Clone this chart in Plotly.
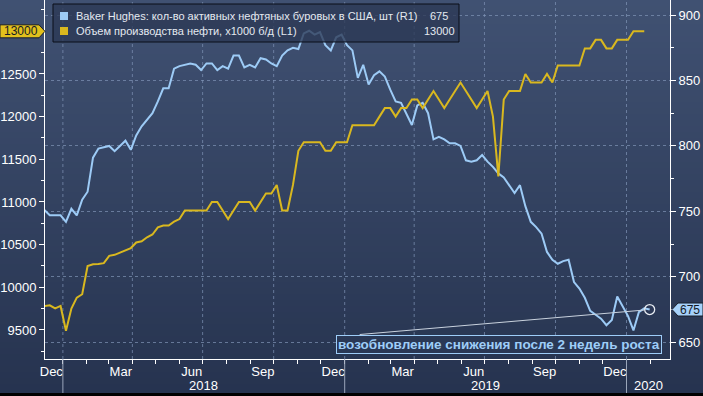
import pandas as pd
import plotly.graph_objects as go

# ---------------- data ----------------
rig_start = "2017-12-08"
rigs = [
    751, 747, 747, 747,
    742, 752, 747, 759,
    765, 791, 798, 799,
    800, 796, 800, 804, 797,
    808, 815, 820, 825,
    834, 844, 844, 859,
    861, 862, 863, 862, 858,
    863, 863, 858, 861,
    859, 869, 869, 860, 862,
    860, 867, 866, 863,
    861, 869, 873, 875,
    874, 886, 888, 885, 887,
    877, 873, 883, 885,
    877, 873, 852, 862,
    847, 854, 857, 853,
    843, 834, 833, 824, 816,
    831, 833, 825, 805,
    807, 805, 802, 802, 800,
    789, 788, 789, 793,
    788, 784, 779, 776,
    770, 764, 770, 754, 742,
    738, 733, 719, 713,
    710, 712, 713, 696,
    691, 684, 674, 671, 668,
    663, 667, 685, 677,
    670, 659, 673, 676, 675,
]
oil_start = "2017-12-08"
oil = [
    9780, 9789, 9754, 9782,
    9492, 9752, 9879, 9919,
    10250, 10271, 10273, 10283,
    10369, 10381, 10407, 10433, 10460,
    10525, 10540, 10586, 10619,
    10703, 10723, 10725, 10769,
    10800, 10900, 10900, 10900, 10900,
    10900, 11000, 11000, 10900,
    10800, 10900, 11000, 11000, 11000,
    10900, 11000, 11100, 11100,
    11200, 10900, 10900, 11200,
    11600, 11700, 11700, 11700, 11700,
    11600, 11600, 11700, 11700,
    11700, 11900, 11900, 11900,
    11900, 11900, 12000, 12100,
    12100, 12000, 12100, 12100, 12200,
    12200, 12100, 12200, 12300,
    12200, 12100, 12200, 12300, 12400,
    12300, 12200, 12100, 12200,
    12300, 12000, 11300, 12200,
    12300, 12300, 12300, 12500, 12400,
    12400, 12400, 12500, 12400,
    12600, 12600, 12600, 12600,
    12600, 12800, 12800, 12900, 12900,
    12800, 12800, 12900, 12900,
    12900, 13000, 13000, 13000,
]
rig_dates = pd.date_range(rig_start, periods=len(rigs), freq="7D")
oil_dates = pd.date_range(oil_start, periods=len(oil), freq="7D")

rig_name = "Baker Hughes: кол-во активных нефтяных буровых в США, шт (R1)"
oil_name = "Объем производства нефти, x1000 б/д (L1)"
note_text = "возобновление снижения после 2 недель роста"

oil_ticks = [9500, 10000, 10500, 11000, 11500, 12000, 12500]
rig_ticks = [650, 700, 750, 800, 850, 900]
month_label_dates = ["2017-12-17", "2018-03-17", "2018-06-17", "2018-09-17", "2018-12-17",
                     "2019-03-17", "2019-06-17", "2019-09-17", "2019-12-17"]
month_labels = ["Dec", "Mar", "Jun", "Sep", "Dec", "Mar", "Jun", "Sep", "Dec"]
year_starts = ["2018-01-01", "2019-01-01", "2020-01-01"]
year_label_dates = ["2018-07-02", "2019-07-02", "2020-01-30"]
year_labels = ["2018", "2019", "2020"]
quarter_starts = ["2018-01-01", "2018-04-01", "2018-07-01", "2018-10-01", "2019-01-01",
                  "2019-04-01", "2019-07-01", "2019-10-01", "2020-01-01"]

x_range = ["2017-12-08 20:00", "2020-02-26 08:00"]
oil_range = [9160, 13367]
rig_range = [637.2, 911.5]

# ---------------- style ----------------
W, H = 703, 396
ML, MR, MT, MB = 45, 33, 0, 37
PW, PH = W - ML - MR, H - MT - MB
BLUE = "#9dcbf6"
YELLOW = "#d9b81f"
FAM = "Liberation Sans, Arial, sans-serif"
TICKFONT = dict(family=FAM, size=13, color="white")
LEGFONT = dict(family=FAM, size=11, color="#e4e9f0")


def py(px):
    return (PH + MT - px) / PH


def pxx(px):
    return (px - ML) / PW


fig = go.Figure()
fig.add_trace(go.Scatter(x=rig_dates, y=rigs, yaxis="y", mode="lines",
                         line=dict(color=BLUE, width=2), hoverinfo="skip", showlegend=False))
fig.add_trace(go.Scatter(x=oil_dates, y=oil, yaxis="y2", mode="lines",
                         line=dict(color=YELLOW, width=2), hoverinfo="skip", showlegend=False))
fig.add_trace(go.Scatter(x=[rig_dates[-1]], y=[rigs[-1]], yaxis="y", mode="markers",
                         marker=dict(symbol="circle-open", size=10, color="#e8ecf2", line=dict(width=1.3)),
                         hoverinfo="skip", showlegend=False))

shapes = []
# gradient background
top = (0x40, 0x51, 0x72)
bot = (0x26, 0x33, 0x4f)
N = 66
y_lo, y_hi = py(H), py(0)
for i in range(N):
    t = i / (N - 1)
    c = tuple(int(round(bot[k] + (top[k] - bot[k]) * t)) for k in range(3))
    shapes.append(dict(type="rect", xref="paper", yref="paper", x0=pxx(0), x1=pxx(W),
                       y0=y_lo + (y_hi - y_lo) * i / N, y1=y_lo + (y_hi - y_lo) * (i + 1) / N + 0.002,
                       fillcolor="rgb(%d,%d,%d)" % c, line=dict(width=0), layer="below"))
shapes.append(dict(type="rect", xref="paper", yref="paper", x0=pxx(0), x1=pxx(W),
                   y0=py(396), y1=py(393), fillcolor="black", line=dict(width=0), layer="below"))
# vertical dotted grid at quarter starts
for d in quarter_starts:
    shapes.append(dict(type="line", xref="x", yref="paper", x0=d, x1=d, y0=0, y1=1,
                       line=dict(color="rgba(128,148,182,0.7)", width=1, dash="dot"), layer="below"))
# year separators below axis
for d in year_starts:
    shapes.append(dict(type="line", xref="x", yref="paper", x0=d, x1=d, y0=0, y1=py(393),
                       line=dict(color="#9aa6ba", width=1)))
# legend box
shapes.append(dict(type="rect", xref="paper", yref="paper", x0=pxx(53), x1=pxx(459),
                   y0=py(42), y1=py(4), fillcolor="rgba(44,57,84,0.78)",
                   line=dict(color="#0b0f18", width=1)))
shapes.append(dict(type="rect", xref="paper", yref="paper", x0=pxx(60), x1=pxx(68),
                   y0=py(20), y1=py(12), fillcolor=BLUE, line=dict(width=0)))
shapes.append(dict(type="rect", xref="paper", yref="paper", x0=pxx(60), x1=pxx(68),
                   y0=py(35), y1=py(27), fillcolor=YELLOW, line=dict(width=0)))
# last value tags
shapes.append(dict(type="path", xref="paper", xsizemode="pixel", xanchor=0,
                   yref="y2", ysizemode="pixel", yanchor=oil[-1],
                   path="M0,0 L-6,6.5 L-45,6.5 L-45,-6.5 L-6,-6.5 Z",
                   fillcolor="#e2c01c", line=dict(color="#1a1f2b", width=1)))
shapes.append(dict(type="path", xref="paper", xsizemode="pixel", xanchor=1,
                   yref="y", ysizemode="pixel", yanchor=rigs[-1],
                   path="M2,0 L8,6.5 L33,6.5 L33,-6.5 L8,-6.5 Z",
                   fillcolor="#a6d1fa", line=dict(color="#1a1f2b", width=1)))
# pointer line from the note to the last point
shapes.append(dict(type="line", xref="x", xsizemode="pixel", xanchor=rig_dates[-1],
                   yref="y", ysizemode="pixel", yanchor=rigs[-1],
                   x0=-290, y0=-25, x1=-5, y1=-0.5,
                   line=dict(color="#c9d2de", width=1)))

annotations = [
    dict(xref="paper", yref="paper", x=pxx(74), y=py(16), xanchor="left", yanchor="middle",
         text=rig_name, showarrow=False, font=LEGFONT),
    dict(xref="paper", yref="paper", x=pxx(74), y=py(31), xanchor="left", yanchor="middle",
         text=oil_name, showarrow=False, font=LEGFONT),
    dict(xref="paper", yref="paper", x=pxx(428), y=py(16), xanchor="left", yanchor="middle",
         text=str(rigs[-1]), showarrow=False, font=LEGFONT),
    dict(xref="paper", yref="paper", x=pxx(457), y=py(31), xanchor="right", yanchor="middle",
         text=str(oil[-1]), showarrow=False, font=LEGFONT),
    dict(xref="paper", yref="y2", x=0, y=oil[-1], xanchor="right", yanchor="middle", xshift=-5,
         text=str(oil[-1]), showarrow=False,
         font=dict(family=FAM, size=12, color="#141a26")),
    dict(xref="paper", yref="y", x=1, y=rigs[-1], xanchor="left", yanchor="middle", xshift=8,
         text=str(rigs[-1]), showarrow=False,
         font=dict(family=FAM, size=12, color="#141a26")),
    dict(xref="paper", yref="paper", x=pxx(498.5), y=py(344), xanchor="center", yanchor="middle",
         text="<b>" + note_text + "</b>", showarrow=False,
         font=dict(family=FAM, size=13.5, color="#9ecdf8"),
         bgcolor="#2a3855", bordercolor="#9ecdf8", borderwidth=1, borderpad=1),
]
for d, lab in zip(year_label_dates, year_labels):
    annotations.append(dict(xref="x", yref="paper", x=d, y=py(385), xanchor="center", yanchor="middle",
                            text=lab, showarrow=False, font=TICKFONT))

fig.update_layout(
    width=W, height=H,
    margin=dict(l=ML, r=MR, t=MT, b=MB, autoexpand=False),
    paper_bgcolor="#26334f",
    plot_bgcolor="rgba(0,0,0,0)",
    showlegend=False,
    shapes=shapes,
    annotations=annotations,
    xaxis=dict(
        type="date", range=x_range, showgrid=False, zeroline=False, automargin=False,
        showline=True, linecolor="white", linewidth=1,
        tickvals=month_label_dates, ticktext=month_labels,
        ticks="outside", ticklen=0, tickfont=TICKFONT,
        minor=dict(ticks="outside", ticklen=4, tickcolor="white", dtick="M1",
                   tick0="2017-12-01", showgrid=False),
    ),
    yaxis=dict(
        side="right", range=rig_range, tickvals=rig_ticks, ticktext=[str(v) for v in rig_ticks],
        showgrid=True, gridcolor="rgba(128,148,182,0.7)", griddash="dot", gridwidth=1,
        zeroline=False, showline=True, linecolor="white", linewidth=1, automargin=False,
        ticks="outside", ticklen=5, tickcolor="white", tickfont=TICKFONT,
        minor=dict(ticks="outside", ticklen=3, tickcolor="white", dtick=25, tick0=0, showgrid=False),
    ),
    yaxis2=dict(
        side="left", overlaying="y", range=oil_range, tickvals=oil_ticks,
        ticktext=[str(v) for v in oil_ticks], showgrid=False, zeroline=False,
        showline=True, linecolor="white", linewidth=1, automargin=False,
        ticks="outside", ticklen=5, tickcolor="white", tickfont=TICKFONT,
        minor=dict(ticks="outside", ticklen=3, tickcolor="white", dtick=250, tick0=0, showgrid=False),
    ),
)

fig.write_html("out.html", config={"displayModeBar": False},
               post_script="document.body.style.margin='0';document.body.style.overflow='hidden';")
